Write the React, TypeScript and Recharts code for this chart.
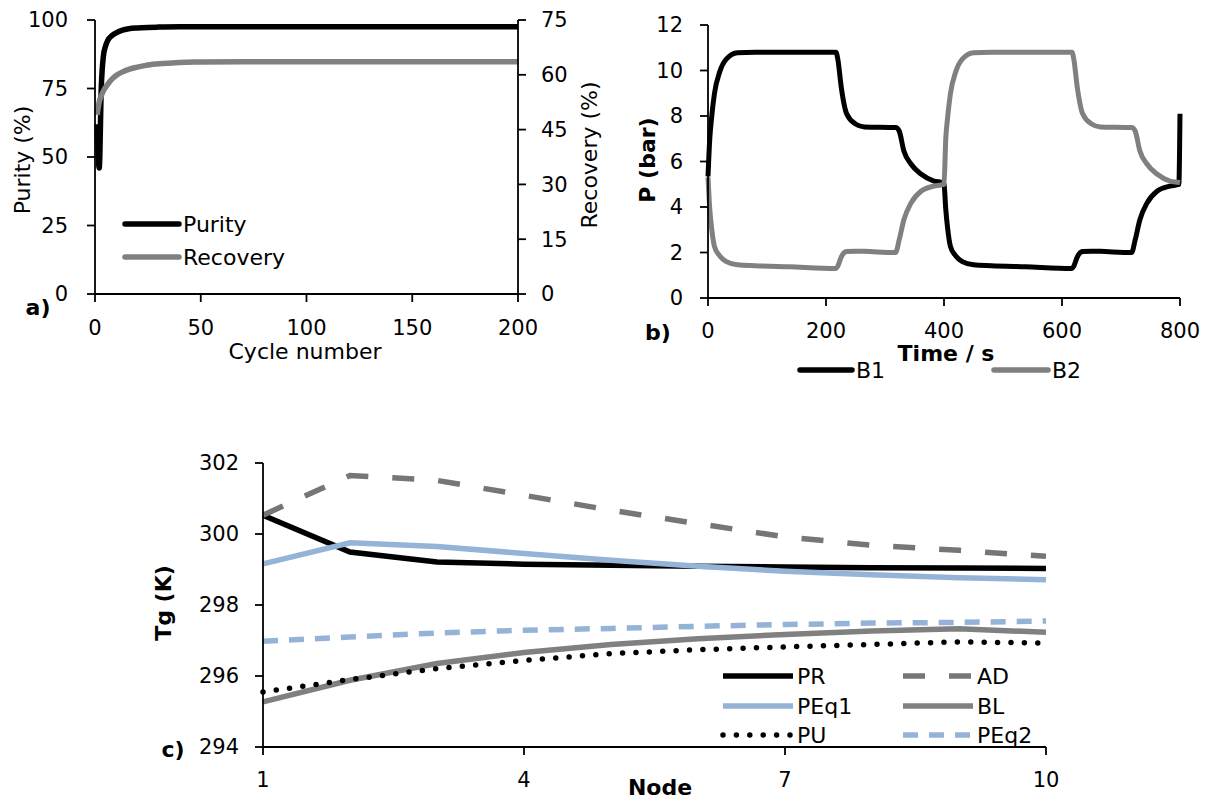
import React from "react";
import { LineChart, Line, XAxis, YAxis, Legend } from "recharts";

const FONT = '"DejaVu Sans", Verdana, sans-serif';

// a) purity / recovery against cycle number
const purityCycles = [1, 2, 3, 4, 5, 6, 8, 10, 13, 16, 20, 25, 30, 40, 60, 100, 150, 200];
const purityValues = [62, 46, 76, 87, 90.5, 92.5, 94.3, 95.3, 96.3, 96.8, 97.1, 97.3, 97.4, 97.5, 97.5, 97.5, 97.5, 97.5];
const recoveryCycles = [1, 2, 3, 4, 6, 8, 10, 13, 16, 20, 25, 32, 40, 50, 70, 100, 200];
const recoveryValues = [49, 52.6, 54.3, 55.6, 57.4, 58.8, 59.8, 60.8, 61.5, 62.1, 62.7, 63.1, 63.4, 63.5, 63.6, 63.6, 63.6];
const cycleTicks = [0, 50, 100, 150, 200];
const purityTicks = [0, 25, 50, 75, 100];
const recoveryTicks = [0, 15, 30, 45, 60, 75];

// b) bed pressures against time
const times = [0, 3, 6, 11, 20, 31, 50, 80, 138, 217, 220, 226, 235, 250, 265, 318, 324, 332, 344, 361, 383, 398, 400,
  403, 406, 411, 420, 431, 450, 480, 538, 617, 620, 626, 635, 650, 665, 718, 724, 732, 744, 761, 783, 798, 800];
const b1 = [5.35, 7.0, 7.9, 9.0, 9.95, 10.5, 10.78, 10.8, 10.8, 10.8, 10.5, 9.24, 8.1, 7.65, 7.52, 7.49, 7.34, 6.46, 5.89, 5.45, 5.14, 5.07, 5.02,
  3.9, 3.1, 2.26, 1.85, 1.6, 1.46, 1.42, 1.37, 1.3, 1.4, 1.81, 2.04, 2.06, 2.05, 2.0, 2.55, 3.44, 4.17, 4.69, 4.92, 4.99, 8.1];
const b2 = [5.3, 3.9, 3.1, 2.26, 1.85, 1.6, 1.46, 1.42, 1.37, 1.3, 1.4, 1.81, 2.04, 2.06, 2.05, 2.0, 2.55, 3.44, 4.17, 4.69, 4.92, 4.98, 5.0,
  7.0, 7.9, 9.0, 9.95, 10.5, 10.78, 10.8, 10.8, 10.8, 10.5, 9.24, 8.1, 7.65, 7.52, 7.49, 7.34, 6.46, 5.89, 5.45, 5.14, 5.08, 5.07];
const timeTicks = [0, 200, 400, 600, 800];
const pressureTicks = [0, 2, 4, 6, 8, 10, 12];

// c) gas temperature along the bed
const nodes = [1, 2, 3, 4, 5, 6, 7, 8, 9, 10];
const PR = [300.53, 299.49, 299.21, 299.15, 299.12, 299.09, 299.07, 299.05, 299.04, 299.03];
const AD = [300.53, 301.65, 301.51, 301.09, 300.67, 300.29, 299.92, 299.68, 299.54, 299.37];
const PEq1 = [299.16, 299.75, 299.65, 299.45, 299.26, 299.09, 298.95, 298.85, 298.77, 298.71];
const BL = [295.27, 295.88, 296.35, 296.66, 296.89, 297.05, 297.17, 297.27, 297.33, 297.23];
const PU = [295.55, 295.9, 296.21, 296.44, 296.63, 296.74, 296.82, 296.89, 296.96, 296.93];
const PEq2 = [296.98, 297.1, 297.21, 297.29, 297.34, 297.4, 297.45, 297.49, 297.51, 297.55];
const nodeTicks = [1, 4, 7, 10];
const tempTicks = [294, 296, 298, 300, 302];

const purityData = purityCycles.map((c, i) => ({ cycle: c, purity: purityValues[i] }));
const recoveryData = recoveryCycles.map((c, i) => ({ cycle: c, recovery: recoveryValues[i] }));
const pressureData = times.map((t, i) => ({ t, B1: b1[i], B2: b2[i] }));
const tempData = nodes.map((n, i) => ({ node: n, PR: PR[i], AD: AD[i], PEq1: PEq1[i], BL: BL[i], PU: PU[i], PEq2: PEq2[i] }));

const LIGHTBLUE = "#95b3d7";
const series = [
  { key: "PR", color: "#000000", dash: undefined, cap: "butt" },
  { key: "AD", color: "#767676", dash: "22 24", cap: "butt" },
  { key: "PEq1", color: LIGHTBLUE, dash: undefined, cap: "butt" },
  { key: "BL", color: "#808080", dash: undefined, cap: "butt" },
  { key: "PU", color: "#000000", dash: "0 13.4", cap: "round" },
  { key: "PEq2", color: LIGHTBLUE, dash: "15 11", cap: "butt" },
];

const axisStroke = { stroke: "#000", strokeWidth: 1.8 };
const tickStyle = { fill: "#000", fontSize: 21, fontFamily: FONT };

type LegendEntry = { name: string; color: string; dash?: string; cap?: string; x: number; y: number; len: number };

const legendSvg = (w: number, h: number, entries: LegendEntry[]) => () => (
  <svg width={w} height={h} style={{ overflow: "visible" }}>
    {entries.map((e) => (
      <g key={e.name}>
        <line x1={e.x} x2={e.x + e.len} y1={e.y} y2={e.y} stroke={e.color} strokeWidth={5.5}
          strokeDasharray={e.dash} strokeLinecap={(e.cap as any) || "round"} />
        <text x={e.x + e.len + 4} y={e.y} dominantBaseline="central" fontSize={22} fontFamily={FONT} fill="#000">
          {e.name}
        </text>
      </g>
    ))}
  </svg>
);

const Txt = ({ x, y, children, bold, rotate, size = 22 }: any) => (
  <div style={{
    position: "absolute", left: x, top: y, whiteSpace: "nowrap", fontFamily: FONT, fontSize: size,
    fontWeight: bold ? "bold" : "normal", color: "#000", lineHeight: 1,
    transform: `translate(-50%, -50%)${rotate ? " rotate(-90deg)" : ""}`,
  }}>{children}</div>
);

const App = () => {
  const legendA: LegendEntry[] = [
    { name: "Purity", color: "#000", x: 125, y: 224, len: 54 },
    { name: "Recovery", color: "#808080", x: 125, y: 257, len: 54 },
  ];
  const legendB: LegendEntry[] = [
    { name: "B1", color: "#000", x: 200, y: 370, len: 52 },
    { name: "B2", color: "#808080", x: 394, y: 370, len: 54 },
  ];
  const legendC: LegendEntry[] = series.map((s, i) => ({
    name: s.key, color: s.color, dash: s.dash, cap: s.cap,
    x: i % 2 === 0 ? 573 : 753, y: [236, 266, 295][Math.floor(i / 2)], len: 70,
  }));

  return (
    <div style={{ position: "absolute", left: 0, top: 0, width: 1209, height: 803, background: "#fff", fontFamily: FONT }}>
      {/* a) */}
      <div style={{ position: "absolute", left: 0, top: 0 }}>
        <LineChart width={600} height={380} margin={{ top: 20, right: 22, bottom: 16, left: 35 }}>
          <XAxis type="number" dataKey="cycle" domain={[0, 200]} ticks={cycleTicks} height={70}
            axisLine={axisStroke} tickLine={axisStroke} tickSize={8} tickMargin={18} tick={tickStyle} />
          <YAxis yAxisId="left" domain={[0, 100]} ticks={purityTicks} width={60}
            axisLine={axisStroke} tickLine={axisStroke} tickSize={8} tickMargin={19} tick={tickStyle} />
          <YAxis yAxisId="right" orientation="right" domain={[0, 75]} ticks={recoveryTicks} width={60}
            axisLine={axisStroke} tickLine={axisStroke} tickSize={8} tickMargin={15} tick={tickStyle} />
          <Line data={purityData} yAxisId="left" dataKey="purity" name="Purity" type="monotone" stroke="#000"
            strokeWidth={5.5} dot={false} isAnimationActive={false} />
          <Line data={recoveryData} yAxisId="right" dataKey="recovery" name="Recovery" type="monotone" stroke="#808080"
            strokeWidth={5.5} dot={false} isAnimationActive={false} />
          <Legend layout="horizontal" verticalAlign="middle" align="center"
            wrapperStyle={{ left: 0, top: 0, width: 600, height: 380, pointerEvents: "none" }}
            content={legendSvg(600, 380, legendA)} />
        </LineChart>
      </div>
      <Txt x={23} y={160} rotate>Purity (%)</Txt>
      <Txt x={590} y={155} rotate>Recovery (%)</Txt>
      <Txt x={305} y={352}>Cycle number</Txt>
      <Txt x={38} y={308} bold>a)</Txt>

      {/* b) */}
      <div style={{ position: "absolute", left: 600, top: 0 }}>
        <LineChart width={609} height={400} data={pressureData} margin={{ top: 25, right: 29, bottom: 52, left: 48 }}>
          <XAxis type="number" dataKey="t" domain={[0, 800]} ticks={timeTicks} height={50}
            axisLine={axisStroke} tickLine={axisStroke} tickSize={8} tickMargin={17} tick={tickStyle} />
          <YAxis domain={[0, 12]} ticks={pressureTicks} width={60}
            axisLine={axisStroke} tickLine={axisStroke} tickSize={8} tickMargin={17} tick={tickStyle} />
          <Line dataKey="B1" type="monotone" stroke="#000" strokeWidth={5} dot={false} isAnimationActive={false} />
          <Line dataKey="B2" type="monotone" stroke="#808080" strokeWidth={5} dot={false} isAnimationActive={false} />
          <Legend layout="horizontal" verticalAlign="middle" align="center"
            wrapperStyle={{ left: 0, top: 0, width: 609, height: 400, pointerEvents: "none" }}
            content={legendSvg(609, 400, legendB)} />
        </LineChart>
      </div>
      <Txt x={648} y={160} rotate bold>P (bar)</Txt>
      <Txt x={946} y={354} bold>Time / s</Txt>
      <Txt x={658} y={333} bold>b)</Txt>

      {/* c) */}
      <div style={{ position: "absolute", left: 150, top: 440 }}>
        <LineChart width={1059} height={363} data={tempData} margin={{ top: 23, right: 163, bottom: 16, left: 53 }}>
          <XAxis type="number" dataKey="node" domain={[1, 10]} ticks={nodeTicks} height={40}
            axisLine={axisStroke} tickLine={axisStroke} tickSize={8} tickMargin={17} tick={tickStyle} />
          <YAxis domain={[294, 302]} ticks={tempTicks} width={60}
            axisLine={axisStroke} tickLine={axisStroke} tickSize={8} tickMargin={16} tick={tickStyle} />
          {series.map((s) => (
            <Line key={s.key} dataKey={s.key} type="linear" stroke={s.color} strokeWidth={5.5}
              strokeDasharray={s.dash} strokeLinecap={s.cap as any} dot={false} isAnimationActive={false} />
          ))}
          <Legend layout="horizontal" verticalAlign="middle" align="center"
            wrapperStyle={{ left: 0, top: 0, width: 1059, height: 363, pointerEvents: "none" }}
            content={legendSvg(1059, 363, legendC)} />
        </LineChart>
      </div>
      <Txt x={164} y={603} rotate bold>Tg (K)</Txt>
      <Txt x={660} y={788} bold>Node</Txt>
      <Txt x={173} y={750} bold>c)</Txt>
    </div>
  );
};

export default App;
